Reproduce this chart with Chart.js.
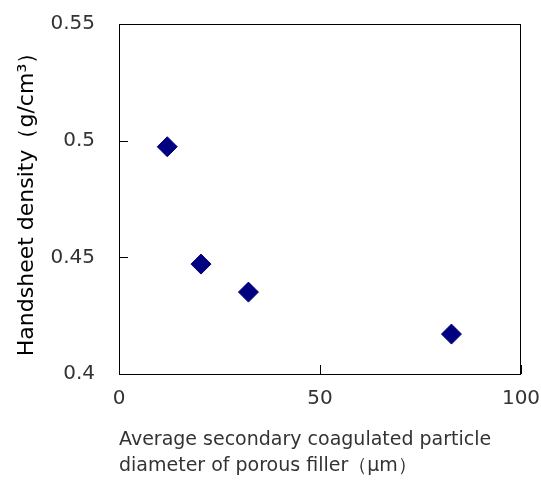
<!DOCTYPE html>
<html>
<head>
<meta charset="utf-8">
<script src="https://cdn.jsdelivr.net/npm/chart.js@4"></script>
<style>
  html, body { margin: 0; padding: 0; background: #fff; }
  #wrap { width: 541px; height: 482px; }
</style>
</head>
<body>
<div id="wrap"><canvas id="scatter-plot"></canvas></div>
<script>
// values
const particleDiameter = [12, 20.4, 32.2, 82.7];
const handsheetDensity = [0.4974, 0.4471, 0.4351, 0.4171];
const xTicks = [0, 50, 100];
const yTicks = [0.4, 0.45, 0.5, 0.55];

const points = particleDiameter.map((x, i) => ({ x: x, y: handsheetDensity[i] }));

// no extra room for overhanging tick labels
function noPad(s) {
  s.paddingTop = 0; s.paddingBottom = 0; s.paddingLeft = 0; s.paddingRight = 0;
}

// box around the plot + inward tick marks
const frame = {
  id: 'frame',
  afterDraw(chart) {
    const { ctx, chartArea: a, scales } = chart;
    ctx.save();
    ctx.strokeStyle = '#000';
    ctx.lineWidth = 1;
    ctx.strokeRect(a.left + 0.5, a.top + 0.5, a.right - a.left - 1, a.bottom - a.top);
    ctx.beginPath();
    yTicks.forEach(v => {
      const y = Math.round(scales.y.getPixelForValue(v)) + 0.5;
      ctx.moveTo(a.left, y);
      ctx.lineTo(a.left + 9, y);
    });
    xTicks.forEach(v => {
      const x = Math.round(scales.x.getPixelForValue(v)) + 0.5;
      ctx.moveTo(x, a.bottom);
      ctx.lineTo(x, a.bottom - 9);
    });
    ctx.stroke();
    ctx.restore();
  }
};

const ctx = document.getElementById('scatter-plot').getContext('2d');
const myChart = new Chart(ctx, {
  type: 'scatter',
  data: {
    datasets: [{
      label: 'Handsheet density',
      data: points,
      pointStyle: 'rectRot',
      pointRadius: 10,
      pointHoverRadius: 10,
      backgroundColor: '#000080',
      borderColor: '#000080',
      borderWidth: 1
    }]
  },
  options: {
    responsive: true,
    maintainAspectRatio: false,
    animation: false,
    layout: { padding: { top: 24, right: 20, left: 0, bottom: 0 } },
    plugins: { legend: { display: false }, tooltip: { enabled: false } },
    scales: {
      x: {
        type: 'linear',
        min: 0,
        max: 100,
        afterBuildTicks: s => { s.ticks = xTicks.map(v => ({ value: v })); },
        afterFit: s => { s.height = 108; noPad(s); },
        grid: { drawOnChartArea: false, drawTicks: false },
        border: { display: false },
        ticks: {
          padding: 13,
          color: '#333',
          font: { family: 'DejaVu Sans', size: 20 }
        },
        title: {
          display: true,
          align: 'start',
          text: ['Average secondary coagulated particle', 'diameter of porous filler（μm）'],
          color: '#333',
          font: { family: 'DejaVu Sans', size: 19, lineHeight: 1.37 },
          padding: { top: 0, bottom: 3 }
        }
      },
      y: {
        type: 'linear',
        min: 0.4,
        max: 0.55,
        afterBuildTicks: s => { s.ticks = yTicks.map(v => ({ value: v })); },
        afterFit: s => { s.width = 119; noPad(s); },
        grid: { drawOnChartArea: false, drawTicks: false },
        border: { display: false },
        ticks: {
          padding: 24,
          color: '#333',
          font: { family: 'DejaVu Sans', size: 20 },
          callback: v => String(v)
        },
        title: {
          display: true,
          text: 'Handsheet density（g/cm³）',
          color: '#000',
          font: { family: 'DejaVu Sans', size: 22 },
          padding: { top: 14, bottom: 0 }
        }
      }
    }
  },
  plugins: [frame]
});
</script>
</body>
</html>
